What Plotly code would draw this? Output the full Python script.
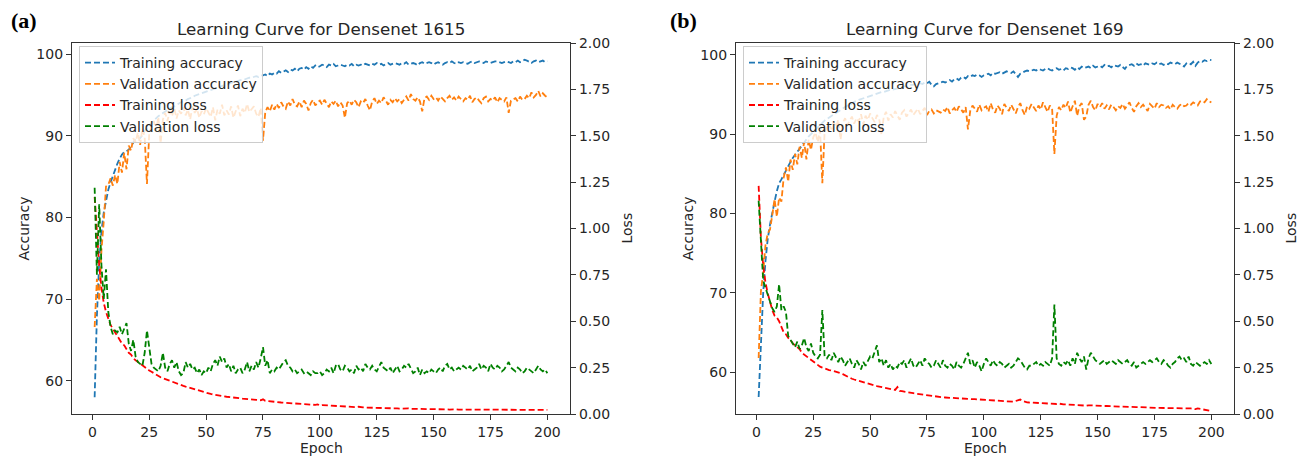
import plotly.graph_objects as go

epochs = list(range(1, 201))

# ---------------- (a) Densenet 1615 ----------------
a_train_acc = [
    58.0, 68.0, 74.5, 78.3, 80.6, 82.2, 83.4, 84.3, 85.1, 85.9,
    86.6, 87.2, 87.7, 88.0, 88.1, 88.3, 88.7, 89.1, 89.6, 89.8,
    89.7, 90.1, 90.6, 91.0, 91.3, 91.6, 91.9, 92.1, 92.4, 92.6,
    92.8, 93.0, 93.2, 93.3, 93.5, 93.6, 93.8, 93.9, 94.1, 94.2,
    94.3, 94.5, 94.6, 94.7, 94.9, 95.0, 95.1, 95.2, 95.3, 95.4,
    95.5, 95.6, 95.7, 95.8, 95.9, 96.0, 96.1, 96.2, 96.2, 96.4,
    96.5, 96.5, 96.6, 96.7, 96.8, 96.8, 96.9, 97.0, 97.1, 97.1,
    97.2, 97.3, 97.2, 97.4, 97.4, 97.5, 97.3, 97.6, 97.5, 97.7,
    97.6, 97.9, 97.7, 97.9, 98.0, 97.8, 98.1, 98.0, 98.2, 97.9,
    98.2, 98.3, 98.1, 98.4, 98.2, 98.5, 98.3, 98.6, 98.4, 98.5,
    98.7, 98.6, 98.4, 98.7, 98.6, 98.8, 98.5, 98.6, 98.7, 98.6,
    98.5, 98.7, 98.6, 98.8, 98.5, 98.7, 98.6, 98.7, 98.6, 98.8,
    98.7, 98.6, 98.8, 98.7, 98.9, 98.7, 98.8, 98.6, 98.8, 98.9,
    98.7, 98.8, 98.9, 98.8, 98.7, 98.9, 98.8, 99.0, 98.7, 98.8,
    98.9, 98.8, 98.6, 98.9, 99.0, 98.8, 98.9, 99.0, 98.9, 98.7,
    98.9, 99.0, 98.8, 98.7, 98.9, 99.0, 98.9, 99.1, 98.9, 98.8,
    99.0, 98.9, 99.0, 98.9, 98.8, 99.0, 99.1, 98.9, 99.0, 99.1,
    99.0, 98.9, 99.1, 99.0, 98.9, 99.0, 99.1, 99.1, 99.0, 98.9,
    99.0, 99.1, 99.0, 98.9, 99.1, 99.0, 99.2, 99.0, 99.1, 99.3,
    99.2, 99.0, 98.9, 99.1, 99.2, 99.0, 99.1, 99.2, 99.0, 99.1,
]
a_val_acc = [
    66.6, 72.5, 69.8, 76.0, 79.5, 83.8, 84.0, 84.8, 83.9, 85.2,
    84.1, 86.8, 85.5, 87.9, 85.9, 88.8, 88.2, 89.7, 89.2, 90.4,
    88.9, 90.9, 89.8, 84.1, 90.3, 91.2, 91.8, 90.6, 92.3, 89.1,
    92.0, 92.8, 91.8, 93.0, 92.4, 93.4, 92.1, 93.1, 92.7, 93.5,
    92.5, 93.2, 92.0, 93.6, 92.8, 93.3, 92.2, 93.0, 92.6, 93.4,
    92.9, 92.3, 93.5, 91.9, 93.2, 92.7, 93.8, 92.5, 93.1, 92.6,
    93.6, 92.2, 93.0, 93.7, 92.4, 93.3, 92.8, 93.9, 92.9, 93.2,
    93.6, 92.7, 92.3, 93.4, 89.4, 92.9, 93.5, 93.0, 93.8, 93.2,
    93.9, 93.4, 94.1, 93.6, 93.3, 94.2, 93.7, 94.5, 93.8, 93.6,
    94.2, 93.5, 94.3, 93.9, 93.1, 94.0, 94.4, 93.7, 94.1, 94.3,
    93.8, 94.4, 94.0, 93.5, 94.2, 93.9, 94.3, 93.6, 94.1, 93.7,
    92.2, 94.0, 94.3, 93.8, 94.4, 94.1, 93.5, 94.2, 94.0, 94.5,
    93.7, 93.1, 94.2, 94.6, 93.9, 94.3, 94.0, 94.7, 94.3, 93.8,
    94.4, 94.1, 94.6, 94.2, 94.5, 94.0, 94.4, 94.8, 94.3, 95.1,
    94.5, 94.3, 94.7, 94.2, 93.0, 94.6, 94.8, 94.4, 94.9, 94.5,
    94.7, 94.3, 94.8, 94.5, 94.2, 94.6, 94.9, 94.4, 94.7, 94.3,
    94.8, 94.5, 94.2, 94.6, 94.4, 94.9, 94.1, 94.5, 94.7, 94.3,
    94.0, 94.6, 94.8, 94.2, 94.5, 94.3, 94.7, 94.1, 94.6, 94.4,
    94.2, 94.7, 92.8, 94.3, 94.5, 94.6, 94.2, 94.8, 94.4, 94.5,
    94.9, 94.6, 95.3, 94.7, 95.0, 95.5, 94.8, 95.2, 94.9, 94.7,
]
a_train_loss = [
    1.17, 0.95, 0.80, 0.68, 0.60, 0.55, 0.51, 0.48, 0.46, 0.44,
    0.42, 0.40, 0.38, 0.37, 0.35, 0.33, 0.32, 0.30, 0.29, 0.28,
    0.27, 0.26, 0.25, 0.24, 0.235, 0.228, 0.22, 0.212, 0.205, 0.198,
    0.193, 0.188, 0.183, 0.178, 0.173, 0.168, 0.164, 0.160, 0.156, 0.152,
    0.148, 0.144, 0.141, 0.137, 0.133, 0.128, 0.124, 0.120, 0.117, 0.113,
    0.110, 0.108, 0.106, 0.103, 0.100, 0.098, 0.097, 0.095, 0.093, 0.091,
    0.090, 0.088, 0.087, 0.085, 0.085, 0.083, 0.082, 0.080, 0.082, 0.079,
    0.077, 0.076, 0.075, 0.074, 0.079, 0.071, 0.070, 0.068, 0.067, 0.066,
    0.065, 0.064, 0.062, 0.061, 0.060, 0.059, 0.058, 0.057, 0.056, 0.055,
    0.054, 0.053, 0.053, 0.052, 0.051, 0.050, 0.050, 0.049, 0.052, 0.046,
    0.048, 0.047, 0.046, 0.045, 0.044, 0.043, 0.043, 0.042, 0.041, 0.040,
    0.041, 0.040, 0.039, 0.038, 0.038, 0.037, 0.039, 0.036, 0.036, 0.035,
    0.035, 0.034, 0.034, 0.033, 0.035, 0.033, 0.032, 0.032, 0.033, 0.031,
    0.031, 0.030, 0.032, 0.030, 0.029, 0.030, 0.029, 0.028, 0.030, 0.028,
    0.028, 0.027, 0.029, 0.027, 0.027, 0.026, 0.028, 0.026, 0.026, 0.025,
    0.026, 0.027, 0.025, 0.025, 0.026, 0.025, 0.024, 0.025, 0.024, 0.025,
    0.024, 0.025, 0.024, 0.023, 0.024, 0.024, 0.023, 0.024, 0.023, 0.023,
    0.024, 0.022, 0.023, 0.023, 0.022, 0.022, 0.023, 0.022, 0.022, 0.023,
    0.022, 0.022, 0.023, 0.022, 0.021, 0.022, 0.022, 0.021, 0.022, 0.021,
    0.022, 0.021, 0.023, 0.021, 0.022, 0.021, 0.021, 0.022, 0.021, 0.022,
]
a_val_loss = [
    1.22, 0.75, 1.13, 0.80, 0.62, 0.78, 0.55, 0.47, 0.43, 0.45,
    0.44, 0.47, 0.43, 0.46, 0.49, 0.38, 0.34, 0.40, 0.31, 0.28,
    0.27, 0.26, 0.33, 0.45, 0.36, 0.27, 0.25, 0.24, 0.23, 0.26,
    0.33, 0.25, 0.23, 0.27, 0.29, 0.25, 0.28, 0.23, 0.21, 0.22,
    0.28, 0.25, 0.27, 0.24, 0.25, 0.22, 0.24, 0.21, 0.23, 0.22,
    0.25, 0.23, 0.27, 0.29, 0.26, 0.31, 0.28, 0.30, 0.25, 0.27,
    0.23, 0.26, 0.22, 0.24, 0.25, 0.22, 0.24, 0.28, 0.23, 0.26,
    0.24, 0.28, 0.25, 0.30, 0.36, 0.26, 0.29, 0.22, 0.24, 0.23,
    0.25, 0.24, 0.26, 0.28, 0.29, 0.26, 0.25, 0.23, 0.24, 0.22,
    0.23, 0.24, 0.22, 0.23, 0.22, 0.21, 0.23, 0.22, 0.22, 0.23,
    0.21, 0.22, 0.24, 0.23, 0.25, 0.22, 0.26, 0.27, 0.24, 0.23,
    0.26, 0.25, 0.23, 0.24, 0.22, 0.26, 0.24, 0.25, 0.23, 0.27,
    0.25, 0.24, 0.26, 0.24, 0.23, 0.26, 0.28, 0.25, 0.24, 0.23,
    0.25, 0.22, 0.24, 0.26, 0.23, 0.24, 0.26, 0.25, 0.27, 0.24,
    0.22, 0.23, 0.25, 0.21, 0.24, 0.22, 0.23, 0.22, 0.24, 0.23,
    0.22, 0.24, 0.25, 0.23, 0.26, 0.27, 0.24, 0.25, 0.23, 0.24,
    0.25, 0.24, 0.26, 0.25, 0.24, 0.26, 0.23, 0.24, 0.25, 0.27,
    0.24, 0.26, 0.25, 0.23, 0.27, 0.25, 0.24, 0.26, 0.25, 0.23,
    0.24, 0.26, 0.28, 0.25, 0.24, 0.23, 0.25, 0.24, 0.22, 0.23,
    0.25, 0.24, 0.23, 0.22, 0.24, 0.26, 0.24, 0.23, 0.24, 0.22,
]

# ---------------- (b) Densenet 169 ----------------
b_train_acc = [
    56.9, 64.0, 70.0, 74.0, 76.8, 78.6, 80.2, 81.5, 82.8, 83.8,
    84.3, 84.9, 85.4, 86.0, 86.5, 87.0, 87.4, 87.8, 88.2, 88.6,
    88.9, 89.3, 89.7, 90.0, 90.3, 90.6, 90.9, 91.2, 91.4, 91.7,
    91.9, 92.1, 92.3, 92.5, 92.7, 92.9, 93.1, 93.2, 93.4, 93.6,
    93.7, 93.9, 94.0, 94.2, 94.3, 94.4, 94.5, 94.6, 94.7, 94.8,
    94.9, 95.0, 95.1, 95.2, 95.3, 95.3, 95.4, 95.5, 95.6, 95.6,
    95.7, 95.8, 95.8, 95.9, 96.0, 96.0, 96.1, 96.2, 96.2, 96.3,
    96.3, 96.4, 96.3, 96.5, 96.4, 96.6, 96.2, 96.0, 96.3, 96.4,
    96.5, 96.6, 96.5, 96.7, 96.8, 96.6, 96.9, 97.0, 96.8, 97.1,
    97.2, 97.0, 97.3, 97.2, 97.4, 97.3, 97.5, 97.4, 97.2, 97.4,
    97.5, 97.6, 97.4, 97.7, 97.6, 97.7, 97.8, 97.6, 97.8, 97.9,
    97.8, 97.7, 97.9, 97.5, 97.2, 97.6, 97.8, 97.9, 98.0, 97.9,
    98.0, 98.1, 98.0, 98.2, 98.1, 98.0, 98.2, 98.3, 98.1, 98.0,
    98.2, 98.3, 98.1, 98.2, 98.0, 98.3, 98.2, 98.4, 98.3, 98.1,
    98.4, 98.2, 98.5, 98.3, 98.4, 98.5, 98.3, 98.6, 98.4, 98.5,
    98.6, 98.4, 98.7, 98.5, 98.6, 98.4, 98.7, 98.6, 98.5, 98.7,
    98.4, 98.2, 98.6, 98.7, 98.8, 98.6, 98.9, 98.7, 98.8, 98.6,
    98.9, 98.8, 98.7, 98.9, 98.8, 99.0, 98.8, 98.9, 98.7, 98.9,
    98.8, 99.0, 98.9, 98.8, 99.0, 98.9, 98.7, 98.5, 98.9, 99.0,
    98.8, 99.1, 98.6, 99.0, 99.2, 99.1, 99.3, 99.2, 99.35, 99.3,
]
b_val_acc = [
    61.8, 70.2, 72.5, 76.0, 77.5, 78.0, 79.8, 81.8, 79.6, 82.0,
    81.5, 84.5, 85.8, 84.0, 86.8, 85.5, 87.5, 86.2, 88.4, 87.0,
    89.0, 86.8, 89.3, 88.0, 89.6, 90.2, 89.0, 90.5, 83.8, 90.3,
    90.8, 91.2, 90.6, 91.5, 90.9, 91.8, 89.3, 91.4, 92.0, 91.1,
    91.7, 92.2, 91.3, 92.0, 91.6, 92.5, 91.2, 92.3, 91.8, 92.6,
    92.0, 91.5, 92.4, 91.9, 89.9, 92.2, 92.8, 91.7, 92.5, 92.1,
    92.9, 92.3, 91.8, 92.7, 93.0, 92.2, 92.6, 93.1, 92.4, 92.8,
    93.2, 92.5, 92.9, 93.3, 92.4, 92.9, 93.1, 92.6, 93.0, 92.8,
    92.7, 93.1, 92.9, 93.4, 92.6, 93.0, 93.3, 92.8, 93.5, 93.1,
    92.7, 93.4, 90.6, 92.9, 93.6, 93.2, 92.8, 93.7, 93.0, 93.3,
    93.5, 92.8, 93.9, 93.1, 92.7, 93.6, 93.2, 92.5, 93.8, 93.3,
    92.9, 93.7, 93.1, 92.6, 93.4, 93.9, 93.0, 92.4, 93.5, 93.2,
    93.8, 93.3, 92.9, 93.6, 93.1, 94.0, 93.4, 92.8, 93.6, 93.2,
    87.5, 92.3, 93.4, 93.0, 93.7, 93.3, 94.1, 92.7, 93.5, 94.2,
    92.3, 93.5, 93.9, 91.8, 92.2, 93.7, 94.2, 93.4, 93.0, 93.8,
    93.4, 93.9, 93.2, 93.6, 93.1, 93.7, 93.4, 93.0, 93.5, 93.3,
    93.8, 93.2, 93.6, 94.0, 93.3, 92.8, 93.5, 93.9, 93.4, 93.7,
    93.3, 92.9, 93.8, 93.5, 93.2, 93.9, 93.4, 93.7, 93.6, 93.3,
    93.5, 93.1, 93.7, 93.4, 93.2, 93.6, 93.8, 93.5, 93.6, 93.9,
    93.7, 94.0, 93.8, 93.6, 94.1, 94.2, 94.0, 94.4, 94.1, 94.0,
]
b_train_loss = [
    1.23, 0.95, 0.80, 0.71, 0.65, 0.60, 0.56, 0.53, 0.52, 0.50,
    0.47, 0.44, 0.43, 0.41, 0.40, 0.38, 0.37, 0.36, 0.35, 0.33,
    0.32, 0.31, 0.30, 0.29, 0.28, 0.27, 0.26, 0.255, 0.25, 0.245,
    0.24, 0.237, 0.235, 0.232, 0.23, 0.225, 0.22, 0.215, 0.208, 0.20,
    0.195, 0.19, 0.186, 0.182, 0.178, 0.175, 0.17, 0.167, 0.164, 0.16,
    0.157, 0.154, 0.15, 0.148, 0.145, 0.142, 0.14, 0.138, 0.135, 0.132,
    0.13, 0.145, 0.125, 0.123, 0.12, 0.118, 0.116, 0.114, 0.112, 0.11,
    0.108, 0.106, 0.104, 0.103, 0.101, 0.099, 0.097, 0.096, 0.094, 0.093,
    0.091, 0.09, 0.089, 0.088, 0.087, 0.086, 0.085, 0.084, 0.083, 0.083,
    0.083, 0.082, 0.082, 0.081, 0.08, 0.08, 0.079, 0.079, 0.078, 0.078,
    0.077, 0.076, 0.075, 0.074, 0.073, 0.072, 0.071, 0.07, 0.069, 0.068,
    0.067, 0.066, 0.066, 0.07, 0.075, 0.078, 0.07, 0.065, 0.063, 0.062,
    0.061, 0.06, 0.06, 0.059, 0.058, 0.057, 0.057, 0.056, 0.056, 0.055,
    0.055, 0.054, 0.056, 0.053, 0.052, 0.052, 0.051, 0.05, 0.05, 0.049,
    0.049, 0.048, 0.048, 0.047, 0.045, 0.047, 0.046, 0.046, 0.045, 0.045,
    0.044, 0.044, 0.043, 0.043, 0.042, 0.042, 0.041, 0.041, 0.04, 0.04,
    0.04, 0.039, 0.039, 0.038, 0.038, 0.037, 0.037, 0.037, 0.036, 0.036,
    0.035, 0.035, 0.035, 0.034, 0.034, 0.033, 0.033, 0.033, 0.032, 0.032,
    0.031, 0.031, 0.031, 0.03, 0.03, 0.029, 0.029, 0.029, 0.03, 0.031,
    0.03, 0.028, 0.026, 0.03, 0.028, 0.024, 0.022, 0.02, 0.018, 0.016,
]
b_val_loss = [
    1.15, 0.95, 0.72, 0.68, 0.64, 0.60, 0.57, 0.55, 0.58, 0.70,
    0.56, 0.58, 0.55, 0.42, 0.40, 0.38, 0.36, 0.39, 0.35, 0.37,
    0.41, 0.36, 0.34, 0.38, 0.33, 0.31, 0.30, 0.32, 0.56, 0.31,
    0.30, 0.32, 0.29, 0.33, 0.30, 0.28, 0.31, 0.29, 0.26, 0.28,
    0.30, 0.27, 0.25, 0.29, 0.27, 0.24, 0.28, 0.26, 0.29, 0.31,
    0.30, 0.34, 0.37, 0.28, 0.30, 0.26, 0.29, 0.25, 0.27, 0.24,
    0.26, 0.25, 0.28, 0.27, 0.29, 0.25, 0.28, 0.30, 0.26, 0.25,
    0.27, 0.29, 0.26, 0.30, 0.28, 0.27, 0.25, 0.26, 0.29, 0.27,
    0.25, 0.29, 0.26, 0.25, 0.27, 0.26, 0.24, 0.28, 0.26, 0.25,
    0.27, 0.30, 0.33, 0.27, 0.29, 0.25, 0.28, 0.26, 0.23, 0.27,
    0.30, 0.28, 0.26, 0.29, 0.27, 0.26, 0.28, 0.27, 0.25, 0.26,
    0.27, 0.25, 0.26, 0.28, 0.30, 0.29, 0.27, 0.25, 0.24, 0.26,
    0.26, 0.27, 0.28, 0.26, 0.27, 0.26, 0.28, 0.27, 0.26, 0.30,
    0.59, 0.30, 0.27, 0.26, 0.28, 0.27, 0.29, 0.26, 0.30, 0.27,
    0.33, 0.30, 0.28, 0.31, 0.24, 0.30, 0.33, 0.31, 0.29, 0.28,
    0.27, 0.28, 0.29, 0.27, 0.28, 0.29, 0.28, 0.27, 0.29, 0.28,
    0.27, 0.28, 0.29, 0.27, 0.26, 0.28, 0.25, 0.26, 0.27, 0.28,
    0.27, 0.28, 0.29, 0.28, 0.29, 0.30, 0.28, 0.27, 0.29, 0.28,
    0.26, 0.25, 0.27, 0.28, 0.30, 0.31, 0.29, 0.30, 0.28, 0.31,
    0.27, 0.26, 0.28, 0.27, 0.26, 0.27, 0.28, 0.27, 0.29, 0.27,
]

series_names = ["Training accuracy", "Validation accuracy", "Training loss", "Validation loss"]
series_colors = ["#1f77b4", "#ff7f0e", "#ff0000", "#008000"]
panel_titles = ["Learning Curve for Densenet 1615", "Learning Curve for Densenet 169"]
panel_tags = ["(a)", "(b)"]
x_ticks = [0, 25, 50, 75, 100, 125, 150, 175, 200]
acc_ticks = [60, 70, 80, 90, 100]
loss_ticks = [0, 0.25, 0.5, 0.75, 1.0, 1.25, 1.5, 1.75, 2.0]

W, H = 1306, 462
FONT = "DejaVu Sans"
TXT = "#262626"
AXC = "#333333"


def px(x):
    return x / W


def py(y):
    return 1 - y / H


panels = [
    dict(data=[a_train_acc, a_val_acc, a_train_loss, a_val_loss],
         edges=(72, 570), acc_range=[55.96, 101.35], tag_x=24, leg_x=79,
         xa="x", ya="y", ya2="y2", legend="legend"),
    dict(data=[b_train_acc, b_val_acc, b_train_loss, b_val_loss],
         edges=(736, 1234), acc_range=[54.75, 101.47], tag_x=683, leg_x=743,
         xa="x2", ya="y3", ya2="y4", legend="legend2"),
]
top_px, bot_px = 43, 414
ydom = [py(bot_px), py(top_px)]

fig = go.Figure()
for p in panels:
    for i, (vals, name, col) in enumerate(zip(p["data"], series_names, series_colors)):
        fig.add_trace(go.Scatter(
            x=epochs, y=vals, name=name, mode="lines",
            line=dict(color=col, width=1.8, dash="6px,3px"),
            xaxis=p["xa"], yaxis=p["ya"] if i < 2 else p["ya2"],
            legend=p["legend"],
        ))

common = dict(showgrid=False, zeroline=False, showline=True, linecolor=AXC, linewidth=1.2,
              ticks="outside", ticklen=5, tickwidth=1.2, tickcolor=AXC, automargin=False,
              tickfont=dict(family=FONT, size=14, color=TXT))


def note(text, x, y, size=14, angle=0, family=FONT, color=TXT):
    return dict(text=text, x=px(x), y=py(y), xref="paper", yref="paper",
                xanchor="center", yanchor="middle", showarrow=False, textangle=angle,
                font=dict(family=family, size=size, color=color))


legend_style = dict(xanchor="left", yanchor="top", bgcolor="rgba(255,255,255,0.8)",
                    bordercolor="#cccccc", borderwidth=1, itemwidth=30,
                    font=dict(family=FONT, size=14, color=TXT), tracegroupgap=0)

layout_axes = {}
annotations = []
ymid = (top_px + bot_px) / 2
for k, p in enumerate(panels):
    l, r = p["edges"]
    sfx = "" if k == 0 else "2"
    yname = "yaxis" if k == 0 else "yaxis3"
    y2name = "yaxis2" if k == 0 else "yaxis4"
    layout_axes["xaxis" + sfx] = dict(common, domain=[px(l), px(r)], anchor=p["ya"],
                                      range=[-8.95, 209.95], tickvals=x_ticks, mirror=True)
    layout_axes[yname] = dict(common, domain=ydom, anchor=p["xa"], range=p["acc_range"],
                              tickvals=acc_ticks, mirror=False)
    layout_axes[y2name] = dict(common, overlaying=p["ya"], anchor=p["xa"], side="right",
                               range=[0, 2], tickvals=loss_ticks, tickformat=".2f")
    layout_axes[p["legend"]] = dict(legend_style, x=px(p["leg_x"]), y=py(46))
    cx = (l + r) / 2
    annotations += [
        note(panel_titles[k], cx, 29, size=16.7),
        note("Epoch", cx, 448),
        note("Accuracy", l - 49, ymid, angle=-90),
        note("Loss", r + 56, ymid, angle=-90),
        note("<b>" + panel_tags[k] + "</b>", p["tag_x"], 21, size=22,
             family="Liberation Serif", color="#000000"),
    ]

fig.update_layout(
    width=W, height=H,
    margin=dict(l=0, r=0, t=0, b=0, autoexpand=False),
    paper_bgcolor="white", plot_bgcolor="white",
    annotations=annotations,
    **layout_axes,
)

# drop the page's default 8px body margin so the figure fills the window exactly
fig.write_html("out.html", config={"displayModeBar": False},
               post_script="document.body.style.margin='0';")
